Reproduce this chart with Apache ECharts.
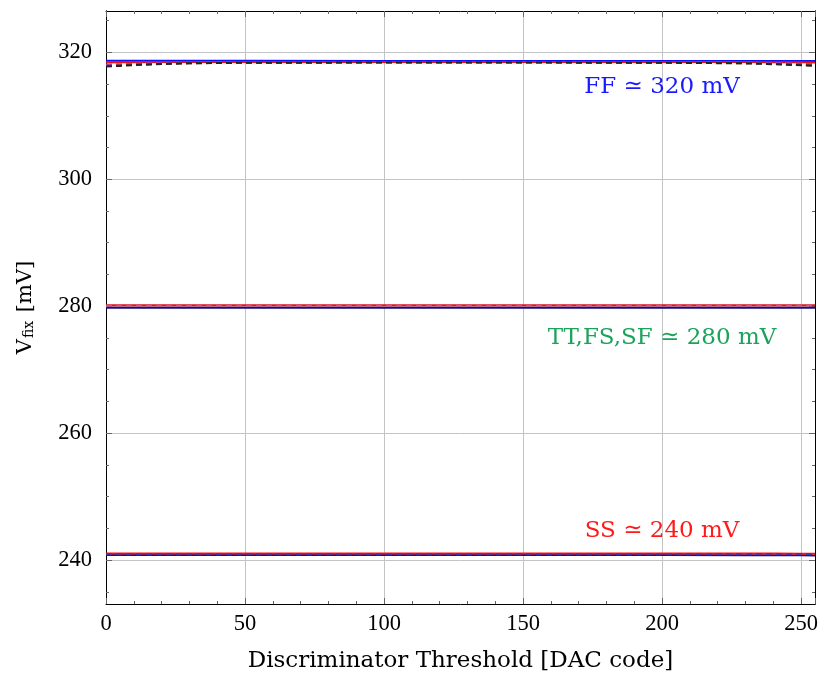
<!DOCTYPE html>
<html>
<head>
<meta charset="utf-8">
<script src="https://cdn.jsdelivr.net/npm/echarts@6/dist/echarts.min.js"></script>
<style>
  html, body { margin: 0; padding: 0; background: #fff; }
  #chart { width: 825px; height: 680px; }
</style>
</head>
<body>
<div id="chart"></div>
<script>
const dacCodes = [0, 5, 10, 20, 30, 50, 100, 150, 200, 230, 240, 250, 255];

// FF corner (~318 mV)
const ffBlue   = [318.66, 318.66, 318.66, 318.65, 318.65, 318.65, 318.64, 318.64, 318.64, 318.64, 318.63, 318.63, 318.62];
const ffRed    = [318.40, 318.42, 318.44, 318.46, 318.47, 318.47, 318.47, 318.47, 318.46, 318.45, 318.44, 318.42, 318.40];
const ffPurple = [318.05, 318.12, 318.20, 318.30, 318.36, 318.40, 318.41, 318.41, 318.40, 318.36, 318.30, 318.20, 318.12];
const ffBrown  = [317.85, 317.95, 318.05, 318.18, 318.28, 318.36, 318.39, 318.39, 318.36, 318.28, 318.18, 318.02, 317.92];
const ffBlack  = [317.75, 317.85, 317.98, 318.14, 318.26, 318.35, 318.38, 318.38, 318.35, 318.25, 318.12, 317.95, 317.85];

// TT / FS / SF corners (~280 mV)
const ttRed    = [280.15, 280.15, 280.15, 280.15, 280.15, 280.15, 280.15, 280.15, 280.15, 280.15, 280.15, 280.15, 280.16];
const ttPurple = [280.08, 280.08, 280.09, 280.09, 280.09, 280.09, 280.09, 280.09, 280.09, 280.09, 280.09, 280.10, 280.12];
const ttBlue   = [279.78, 279.78, 279.78, 279.78, 279.78, 279.78, 279.78, 279.78, 279.78, 279.78, 279.78, 279.78, 279.78];

// SS corner (~241 mV)
const ssRed    = [241.05, 241.05, 241.05, 241.05, 241.05, 241.05, 241.05, 241.05, 241.05, 241.05, 241.04, 241.03, 241.02];
const ssPurple = [240.95, 240.95, 240.95, 240.95, 240.95, 240.95, 240.95, 240.95, 240.95, 240.95, 240.94, 240.93, 240.92];
const ssBlue   = [240.80, 240.80, 240.80, 240.80, 240.80, 240.80, 240.80, 240.80, 240.80, 240.79, 240.78, 240.77, 240.75];

const yMajor = [240, 260, 280, 300, 320];
const yMinor = [235, 245, 250, 255, 265, 270, 275, 285, 290, 295, 305, 310, 315, 325];
const yMin = 233.1, yMax = 326.5;

const FONT = 'Liberation Serif';
const TEXT_FONT = 'DejaVu Serif';
const TICK = '#666';
const GRID = '#c4c4c4';

function pts(ys) { return dacCodes.map((x, i) => [x, ys[i]]); }

function line(name, ys, color, dashed, label) {
  const s = {
    name, type: 'line', data: pts(ys), showSymbol: false, symbol: 'none',
    lineStyle: { color, width: 2, type: dashed ? [6, 4] : 'solid' },
    z: dashed ? 3 : 2, silent: true
  };
  if (label) {
    s.markPoint = {
      symbol: 'circle', symbolSize: 0, silent: true,
      data: [{ coord: label.coord, label: {
        show: true, position: 'inside', formatter: label.text,
        color: label.color, fontFamily: TEXT_FONT, fontSize: 23
      } }]
    };
  }
  return s;
}

function yAx(position, ticks, len, labels, split) {
  return {
    type: 'value', position, min: yMin, max: yMax, offset: 0,
    axisLine: { show: true, onZero: false, lineStyle: { color: '#000', width: 1 } },
    axisTick: { show: true, inside: true, length: len, customValues: ticks, lineStyle: { color: TICK, width: 1 } },
    axisLabel: labels ? { show: true, customValues: ticks, color: '#000', fontFamily: FONT, fontSize: 22.5, margin: 14 } : { show: false },
    splitLine: { show: split, lineStyle: { color: GRID, width: 1 } },
    minorTick: { show: false }
  };
}

const chart = echarts.init(document.getElementById('chart'), null, { renderer: 'canvas' });
chart.setOption({
  animation: false,
  backgroundColor: '#fff',
  grid: { left: 106, right: 10, top: 11, bottom: 76, containLabel: false },
  xAxis: [
    {
      type: 'value', position: 'bottom', min: 0, max: 255, interval: 50,
      name: 'Discriminator Threshold [DAC code]', nameLocation: 'middle', nameGap: 46,
      nameTextStyle: { color: '#000', fontFamily: TEXT_FONT, fontSize: 23 },
      axisLine: { show: true, onZero: false, lineStyle: { color: '#000', width: 1 } },
      axisTick: { show: true, inside: true, length: 6, lineStyle: { color: TICK } },
      minorTick: { show: true, splitNumber: 5, length: 3, lineStyle: { color: TICK } },
      axisLabel: { color: '#000', fontFamily: FONT, fontSize: 22.5, margin: 9 },
      splitLine: { show: true, lineStyle: { color: GRID, width: 1 } }
    },
    {
      type: 'value', position: 'top', min: 0, max: 255, interval: 50,
      axisLine: { show: true, onZero: false, lineStyle: { color: '#000', width: 1 } },
      axisTick: { show: true, inside: true, length: 6, lineStyle: { color: TICK } },
      minorTick: { show: true, splitNumber: 5, length: 3, lineStyle: { color: TICK } },
      axisLabel: { show: false },
      splitLine: { show: false }
    }
  ],
  yAxis: [
    Object.assign(yAx('left', yMajor, 6, true, true), {
      name: '{v|V}{s|fix}{v| [mV]}', nameLocation: 'middle', nameGap: 70, nameRotate: 90,
      nameTextStyle: {
        rich: {
          v: { color: '#000', fontFamily: TEXT_FONT, fontSize: 21 },
          s: { color: '#000', fontFamily: TEXT_FONT, fontSize: 14, padding: [0, 2, 0, 1], verticalAlign: 'bottom', lineHeight: 8 }
        }
      }
    }),
    yAx('left', yMinor, 3, false, false),
    yAx('right', yMajor, 6, false, false),
    yAx('right', yMinor, 3, false, false)
  ],
  series: [
    line('FF blue', ffBlue, '#1010ff', false, { coord: [200, 314.6], text: 'FF ≃ 320 mV', color: '#1a1aff' }),
    line('FF red', ffRed, '#ee1111', false),
    line('FF purple', ffPurple, '#9a40c0', true),
    line('FF brown', ffBrown, '#8b3a1a', true),
    line('FF black', ffBlack, '#222222', true),
    line('TT blue', ttBlue, '#10108a', false, { coord: [200, 274.96], text: 'TT,FS,SF ≃ 280 mV', color: '#1aa35a' }),
    line('TT red', ttRed, '#ee1111', false),
    line('TT purple', ttPurple, '#b060a0', true),
    line('SS blue', ssBlue, '#10108a', false),
    line('SS purple', ssPurple, '#5030a0', true),
    line('SS red', ssRed, '#ff1111', false, { coord: [200, 244.6], text: 'SS ≃ 240 mV', color: '#ff1a1a' })
  ]
});
</script>
</body>
</html>
